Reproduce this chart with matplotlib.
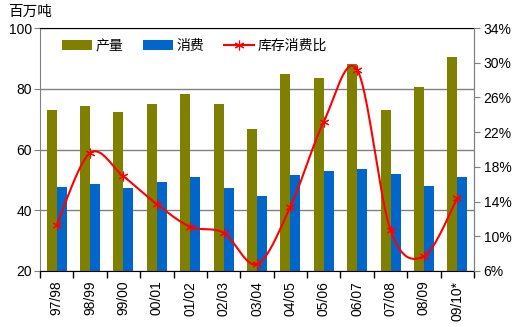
import numpy as np
import matplotlib.pyplot as plt
from matplotlib.ticker import FuncFormatter

plt.rcParams['font.family'] = ['Liberation Sans', 'Noto Sans CJK SC', 'DejaVu Sans']

seasons = ['97/98', '98/99', '99/00', '00/01', '01/02', '02/03', '03/04',
           '04/05', '05/06', '06/07', '07/08', '08/09', '09/10*']
production = [73.0, 74.3, 72.3, 75.0, 78.3, 75.0, 66.8, 84.9, 83.5, 88.0, 73.0, 80.6, 90.3]
consumption = [47.8, 48.6, 47.3, 49.3, 51.0, 47.3, 44.7, 51.6, 52.9, 53.6, 51.9, 48.0, 50.9]
stock_ratio = [11.3, 19.6, 16.9, 13.7, 11.1, 10.4, 6.8, 13.4, 23.2, 29.2, 10.7, 7.7, 14.4]

OLIVE = '#808000'
BLUE = '#0066CC'
RED = '#FF0000'


def smooth(x, y, n=20):
    # Catmull-Rom style smoothing like spreadsheet "smoothed line"
    x = np.asarray(x, float)
    y = np.asarray(y, float)
    px = np.concatenate([[x[0]], x, [x[-1]]])
    py = np.concatenate([[y[0]], y, [y[-1]]])
    xs, ys = [], []
    t = np.linspace(0, 1, n)
    for i in range(1, len(px) - 2):
        p0, p1, p2, p3 = (np.array([px[j], py[j]]) for j in range(i - 1, i + 3))
        c1 = p1 + (p2 - p0) / 6
        c2 = p2 - (p3 - p1) / 6
        b = ((1 - t) ** 3)[:, None] * p1 + (3 * (1 - t) ** 2 * t)[:, None] * c1 \
            + (3 * (1 - t) * t ** 2)[:, None] * c2 + (t ** 3)[:, None] * p2
        xs.extend(b[:, 0])
        ys.extend(b[:, 1])
    return np.array(xs), np.array(ys)


fig = plt.figure(figsize=(5.16, 3.27), dpi=100)
ax = fig.add_axes([40 / 516, 1 - 271 / 327, 434 / 516, 243 / 327])
x = np.arange(len(seasons))
w = 0.3

ax.bar(x - w / 2, production, w, color=OLIVE, label='产量', zorder=2)
ax.bar(x + w / 2, consumption, w, color=BLUE, label='消费', zorder=2)
ax.set_ylim(20, 100)
ax.set_xlim(-0.5, len(seasons) - 0.5)
ax.set_yticks([20, 40, 60, 80, 100])
ax.yaxis.grid(True, color='#808080', linewidth=1, zorder=0)
ax.set_axisbelow(True)

# category separators as major ticks, labels on minor ticks
ax.set_xticks(np.arange(len(seasons) + 1) - 0.5)
ax.set_xticklabels([])
ax.set_xticks(x, minor=True)
ax.set_xticklabels(seasons, minor=True, rotation=90, fontsize=10)
ax.tick_params(axis='x', which='minor', length=0, pad=7)
ax.tick_params(axis='x', which='major', length=5, width=1, color='black')
ax.tick_params(axis='y', labelsize=10, length=4, color='#808080', pad=2)

for side in ['left', 'right']:
    ax.spines[side].set_color('#808080')
ax.spines['top'].set_color('black')
ax.spines['bottom'].set_color('black')

ax2 = ax.twinx()
ax2.set_ylim(6, 34)
ax2.set_yticks(np.arange(6, 35, 4))
ax2.yaxis.set_major_formatter(FuncFormatter(lambda v, p: f'{v:.0f}%'))
ax2.tick_params(axis='y', labelsize=10, length=4, color='#808080', pad=3)
ax2.spines['right'].set_color('#808080')
ax2.spines['left'].set_visible(False)
ax2.spines['top'].set_visible(False)
ax2.spines['bottom'].set_visible(False)

sx, sy = smooth(x, stock_ratio)
ax2.plot(sx, sy, color=RED, linewidth=1.5, zorder=3)
ax2.plot(x, stock_ratio, linestyle='none', marker=(6, 2, 0), markersize=7,
         markeredgecolor=RED, markeredgewidth=0.8, zorder=4)
line_handle, = ax2.plot([], [], color=RED, linewidth=1.5, marker=(6, 2, 0),
                        markersize=7, markeredgecolor=RED, markeredgewidth=0.8,
                        label='库存消费比')

h1, l1 = ax.get_legend_handles_labels()
ax.legend(h1 + [line_handle], l1 + ['库存消费比'], loc='upper left',
          bbox_to_anchor=(0.05, 0.955), ncol=3, frameon=False,
          borderpad=0, borderaxespad=0,
          fontsize=10, handlelength=2.16, handleheight=0.65,
          columnspacing=1.37, handletextpad=0.3)

fig.text(8 / 516, 1 - 12 / 327, '百万吨', fontsize=10.5, va='center', ha='left',
         family=['Noto Sans CJK SC', 'DejaVu Sans'])

fig.savefig('out.png', dpi=100)
